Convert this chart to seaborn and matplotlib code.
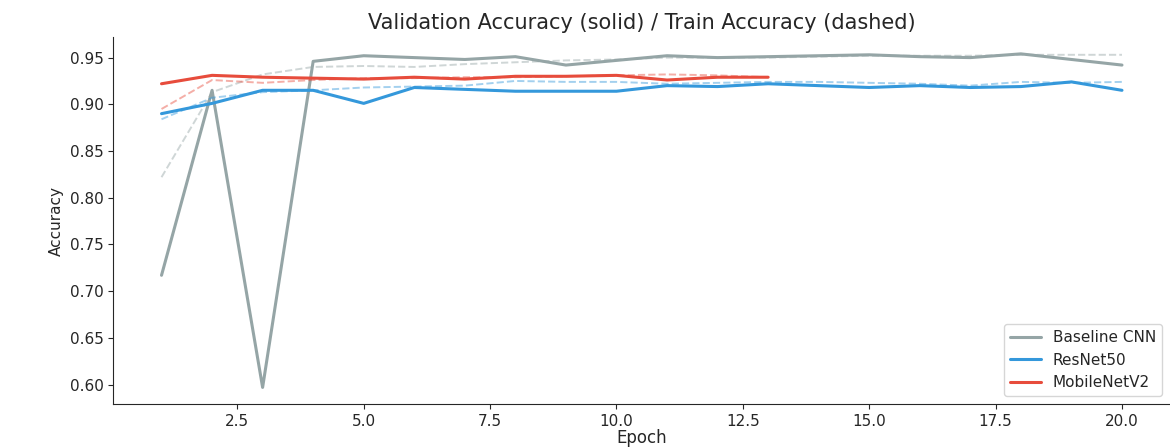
import numpy as np
import pandas as pd
import matplotlib
matplotlib.use("Agg")
import matplotlib.pyplot as plt
import seaborn as sns

# Data
models = ["Baseline CNN", "ResNet50", "MobileNetV2"]
colors = ["#95a5a6", "#3498db", "#e74c3c"]

cnn_val = [0.717, 0.915, 0.597, 0.946, 0.952, 0.950, 0.948, 0.951, 0.942, 0.947,
           0.952, 0.950, 0.951, 0.952, 0.953, 0.951, 0.950, 0.954, 0.948, 0.942]
cnn_train = [0.822, 0.913, 0.932, 0.940, 0.941, 0.940, 0.943, 0.945, 0.947, 0.948,
             0.950, 0.950, 0.950, 0.951, 0.952, 0.952, 0.952, 0.953, 0.953, 0.953]

resnet_val = [0.890, 0.901, 0.915, 0.915, 0.901, 0.918, 0.916, 0.914, 0.914, 0.914,
              0.920, 0.919, 0.922, 0.920, 0.918, 0.920, 0.918, 0.919, 0.924, 0.915]
resnet_train = [0.884, 0.907, 0.913, 0.915, 0.918, 0.919, 0.920, 0.925, 0.924, 0.924,
                0.922, 0.923, 0.924, 0.924, 0.923, 0.922, 0.920, 0.924, 0.923, 0.924]

mobile_val = [0.922, 0.931, 0.929, 0.928, 0.927, 0.929, 0.927, 0.930, 0.930, 0.931,
              0.926, 0.929, 0.929]
mobile_train = [0.895, 0.926, 0.923, 0.926, 0.928, 0.928, 0.929, 0.929, 0.930, 0.931,
                0.932, 0.931, 0.929]

val_series = [cnn_val, resnet_val, mobile_val]
train_series = [cnn_train, resnet_train, mobile_train]

sns.set_style("ticks")
plt.rcParams["font.family"] = ["DejaVu Sans"]

fig, ax = plt.subplots(figsize=(11.7, 4.48), dpi=100)
fig.subplots_adjust(left=0.097, right=1.0, bottom=0.098, top=0.917)

for name, color, val, train in zip(models, colors, val_series, train_series):
    val_df = pd.DataFrame({"Epoch": np.arange(1, len(val) + 1), "Accuracy": val})
    train_df = pd.DataFrame({"Epoch": np.arange(1, len(train) + 1), "Accuracy": train})
    sns.lineplot(data=val_df, x="Epoch", y="Accuracy", color=color, linewidth=2.2,
                 label=name, ax=ax)
    sns.lineplot(data=train_df, x="Epoch", y="Accuracy", color=color, linewidth=1.4,
                 linestyle="--", alpha=0.45, ax=ax)

sns.despine()
ax.set_title("Validation Accuracy (solid) / Train Accuracy (dashed)", fontsize=15)
ax.set_xlabel("Epoch", fontsize=12, labelpad=0)
ax.set_ylabel("Accuracy", fontsize=11)
ax.tick_params(labelsize=11)
ax.legend(loc="lower right", fontsize=11, frameon=True)

plt.savefig("out.png", dpi=100)
